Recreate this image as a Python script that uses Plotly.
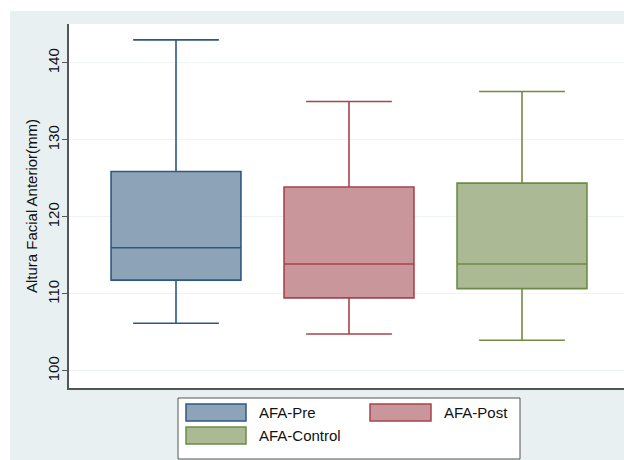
import plotly.graph_objects as go

# Summary statistics of anterior facial height (mm) per group
groups = ["AFA-Pre", "AFA-Post", "AFA-Control"]
lower_whisker = [106.2, 104.8, 104.0]
q1_values = [111.8, 109.5, 110.7]
median_values = [116.0, 113.9, 113.9]
q3_values = [125.9, 123.9, 124.4]
upper_whisker = [143.0, 135.0, 136.3]

fill_colors = ["#8CA3B8", "#C9979B", "#ABBA95"]
line_colors = ["#2E5882", "#A8434C", "#6E8B45"]

y_ticks = [100, 110, 120, 130, 140]

W, H = 624, 460
ML, MR, MT, MB = 69, 0, 24, 72
PW, PH = W - ML - MR, H - MT - MB


def px(x):
    return (x - ML) / PW


def py(y):
    return (H - MB - y) / PH


fig = go.Figure()
for i, g in enumerate(groups):
    fig.add_trace(go.Box(
        x=[i],
        q1=[q1_values[i]],
        median=[median_values[i]],
        q3=[q3_values[i]],
        lowerfence=[lower_whisker[i]],
        upperfence=[upper_whisker[i]],
        name=g,
        width=0.751,
        whiskerwidth=0.66,
        fillcolor=fill_colors[i],
        line=dict(color=line_colors[i], width=1.6),
        boxpoints=False,
        showlegend=False,
        hoverinfo="skip",
    ))

shapes = [
    # white margin strips around the light panel background
    dict(type="rect", xref="paper", yref="paper", x0=px(0), x1=px(10), y0=py(H), y1=py(0),
         fillcolor="white", line=dict(width=0), layer="below"),
    dict(type="rect", xref="paper", yref="paper", x0=px(0), x1=1, y0=py(11), y1=py(0),
         fillcolor="white", line=dict(width=0), layer="below"),
    # legend frame
    dict(type="rect", xref="paper", yref="paper", x0=px(178), x1=px(520), y0=py(459), y1=py(398),
         fillcolor="white", line=dict(color="#555555", width=1)),
]

annotations = []
legend_slots = [(186, 246, 404, 421, 257), (370, 431, 404, 421, 442), (186, 246, 427, 444, 257)]
for i, g in enumerate(groups):
    x0, x1, y0, y1, tx = legend_slots[i]
    shapes.append(dict(type="rect", xref="paper", yref="paper",
                       x0=px(x0), x1=px(x1), y0=py(y1), y1=py(y0),
                       fillcolor=fill_colors[i], line=dict(color=line_colors[i], width=1.5)))
    annotations.append(dict(x=px(tx), y=py((y0 + y1) / 2), xref="paper", yref="paper",
                            text=g, showarrow=False, xanchor="left", yanchor="middle",
                            font=dict(size=15, color="#111111")))

fig.update_layout(
    width=W, height=H,
    margin=dict(l=ML, r=MR, t=MT, b=MB),
    paper_bgcolor="#E8F0F2",
    plot_bgcolor="white",
    font=dict(family="Liberation Sans, Arial, sans-serif", size=15, color="#111111"),
    shapes=shapes,
    annotations=annotations,
    xaxis=dict(range=[-0.6185, 2.5896], showticklabels=False, ticks="", showgrid=False,
               zeroline=False, showline=True, linecolor="#555555", linewidth=1.5),
    yaxis=dict(range=[97.79, 145.06], tickvals=y_ticks, tickangle=-90, ticks="outside",
               ticklen=5, tickcolor="#555555", showline=True, linecolor="#555555", linewidth=1.5,
               ticklabelstandoff=-3,
               gridcolor="#EEF3F5", gridwidth=1, zeroline=False,
               title=dict(text="Altura Facial Anterior(mm)", standoff=4,
                          font=dict(size=15))),
)

fig.write_html("out.html")
